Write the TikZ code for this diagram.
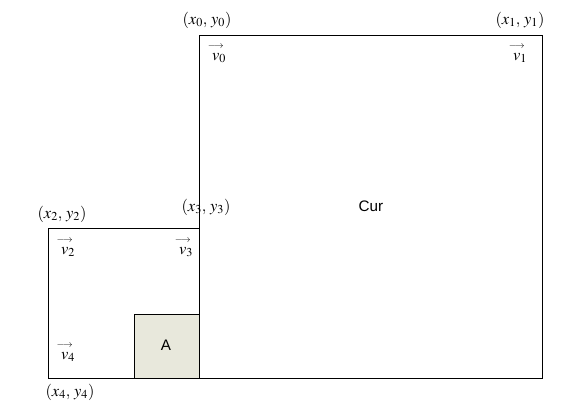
\documentclass[tikz,border=0pt]{standalone}
\usepackage{amsmath}
\usepackage{mathptmx}
\usepackage{fontspec}
\setsansfont{Liberation Sans}
\usepackage{tikz}
\definecolor{boxfill}{RGB}{232,232,220}
\newcommand{\vlab}[1]{\overset{\makebox[0pt]{\raisebox{1pt}{$\scriptscriptstyle\boldsymbol{\longrightarrow}$}}}{v}_{#1}}
\tikzset{
    coord/.style={inner sep=0pt, font=\fontsize{14}{16}\selectfont},
    vlabel/.style={inner sep=0pt, font=\fontsize{14}{16}\selectfont},
    region/.style={inner sep=0pt, font=\sffamily\fontsize{13}{15}\selectfont}
}

\begin{document}
\begin{tikzpicture}[x=0.03cm, y=-0.03cm]
    \useasboundingbox (0,0) rectangle (588,411);
    % rectangles
    \draw[thick] (199,35) rectangle (542,378);
    \draw[fill=boxfill] (134,314) rectangle (199,378);
    \draw[thick] (48,378) -- (48,228) -- (199,228);
    \draw[thick] (48,378) -- (199,378);
    
    % corners
    \node[coord] (c0) at (207,20) {$(x_0,\,y_0)$};
    \node[coord] (c1) at (520,20) {$(x_1,\,y_1)$};
    \node[coord] (c2) at (62,214) {$(x_2,\,y_2)$};
    \node[coord] (c3) at (206,207) {$(x_3,\,y_3)$};
    \node[coord] (c4) at (70,392) {$(x_4,\,y_4)$};
    
    % vectors
    \node[vlabel] (v0) at (219,53) {$\vlab{0}$};
    \node[vlabel] (v1) at (520,53) {$\vlab{1}$};
    \node[vlabel] (v2) at (68,247) {$\vlab{2}$};
    \node[vlabel] (v3) at (186,247) {$\vlab{3}$};
    \node[vlabel] (v4) at (68,352) {$\vlab{4}$};
    
    % regions
    \node[region] (cur) at (371,206) {Cur};
    \node[region] (a) at (166,345) {A};
\end{tikzpicture}
\end{document}
